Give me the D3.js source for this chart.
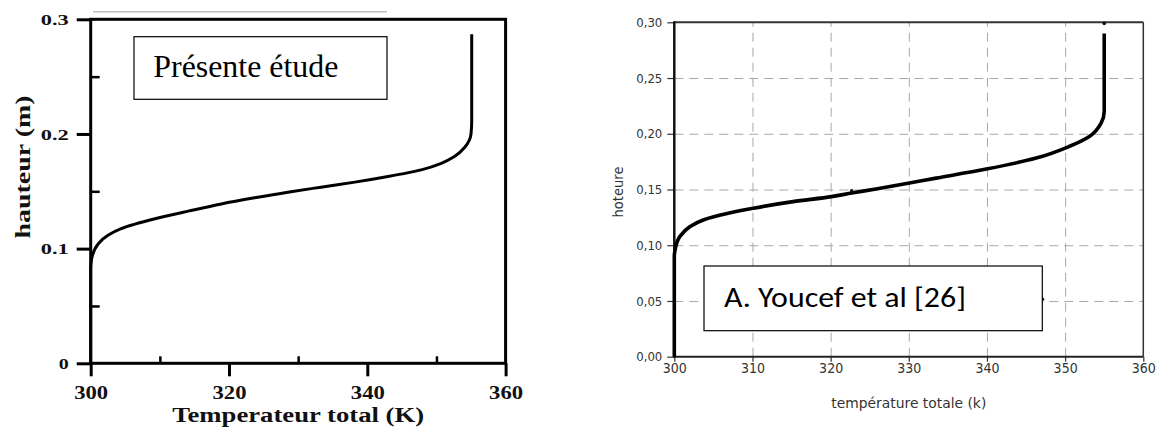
<!DOCTYPE html>
<html>
<head>
<meta charset="utf-8">
<script src="https://cdn.jsdelivr.net/npm/d3@7"></script>
<style>
  html, body { margin: 0; padding: 0; background: #fff; }
  svg { display: block; }
</style>
</head>
<body>
<svg id="chart" width="1161" height="427"></svg>
<script>
// ---------- DATA ----------
// Left panel: "Présente étude"
const leftTemp   = [300, 300, 300.1, 301.1, 302.5, 304.4, 309.3, 314.1, 318.9, 323.7, 328.5, 333.3, 338.2, 343.0, 347.8, 350.7, 352.6, 354.1, 355.0, 355.1, 355.1];
const leftHeight = [0, 0.082, 0.0898, 0.1043, 0.1116, 0.1174, 0.126, 0.1327, 0.139, 0.1443, 0.1492, 0.1536, 0.158, 0.1629, 0.1687, 0.1744, 0.1803, 0.1884, 0.2, 0.2116, 0.287];
const leftXTicks = [300, 320, 340, 360];
const leftXMinor = [310, 330, 350];
const leftYTicks = [0, 0.1, 0.2, 0.3];
const leftYMinor = [0.05, 0.15, 0.25];
const leftXLabels = ["300", "320", "340", "360"];
const leftYLabels = ["0", "0.1", "0.2", "0.3"];

// Right panel: "A. Youcef et al [26]"
const rightTemp   = [300, 300, 300.1, 300.7, 302.0, 303.7, 306.9, 310.1, 315.2, 320.1, 322.7, 325.8, 329.9, 333.5, 339.9, 346.3, 350.5, 353.1, 354.6, 355.0, 355.0];
const rightHeight = [0, 0.09, 0.0958, 0.1077, 0.1167, 0.1227, 0.1287, 0.1332, 0.1391, 0.1436, 0.1468, 0.1505, 0.1557, 0.1602, 0.1683, 0.1782, 0.1886, 0.1976, 0.2096, 0.22, 0.29];
const rightStrayTemp   = [355.0, 347.1, 322.7];
const rightStrayHeight = [0.299, 0.0515, 0.1488];
const rightXTicks = [300, 310, 320, 330, 340, 350, 360];
const rightYTicks = [0, 0.05, 0.10, 0.15, 0.20, 0.25, 0.30];
const rightXLabels = ["300", "310", "320", "330", "340", "350", "360"];
const rightYLabels = ["0,00", "0,05", "0,10", "0,15", "0,20", "0,25", "0,30"];

// ---------- DRAW ----------
const svg = d3.select("#chart");

// ===== LEFT PANEL =====
const Lx = d3.scaleLinear().domain([300, 360]).range([90.7, 505.6]);
const Ly = d3.scaleLinear().domain([0, 0.3]).range([363.3, 19.3]);
const L = svg.append("g");
const serifBold = "'Liberation Serif', 'Times New Roman', serif";

// faint scan line above
L.append("line").attr("x1", 93).attr("x2", 387).attr("y1", 11.7).attr("y2", 11.7)
  .attr("stroke", "#bdbdbd").attr("stroke-width", 1.5);

// major ticks (outward) left
const lyAxis = L.append("g").attr("transform", `translate(${Lx(300)},0)`)
  .call(d3.axisLeft(Ly).tickValues(leftYTicks).tickSize(14).tickPadding(8)
    .tickFormat((d, i) => leftYLabels[i]));
lyAxis.select(".domain").remove();
lyAxis.selectAll(".tick line").attr("stroke", "#000").attr("stroke-width", 3);
lyAxis.selectAll(".tick text").attr("font-family", serifBold).attr("font-weight", "bold")
  .attr("font-size", 15).attr("fill", "#111").attr("dy", "0.35em")
  .each(function(d, i) { const n = leftYLabels[i].length; d3.select(this).attr("textLength", n === 1 ? 10 : 28).attr("lengthAdjust", "spacingAndGlyphs"); });

// minor ticks inward left
const lyMinor = L.append("g").attr("transform", `translate(${Lx(300)},0)`)
  .call(d3.axisLeft(Ly).tickValues(leftYMinor).tickSize(-9).tickFormat(""));
lyMinor.select(".domain").remove();
lyMinor.selectAll(".tick line").attr("stroke", "#000").attr("stroke-width", 2.5);

// major ticks bottom
const lxAxis = L.append("g").attr("transform", `translate(0,${Ly(0)})`)
  .call(d3.axisBottom(Lx).tickValues(leftXTicks).tickSize(13).tickPadding(10)
    .tickFormat((d, i) => leftXLabels[i]));
lxAxis.select(".domain").remove();
lxAxis.selectAll(".tick line").attr("stroke", "#000").attr("stroke-width", 3);
lxAxis.selectAll(".tick text").attr("font-family", serifBold).attr("font-weight", "bold")
  .attr("font-size", 18).attr("fill", "#111").attr("dy", "0.71em")
  .attr("textLength", 34).attr("lengthAdjust", "spacingAndGlyphs");

// minor ticks inward bottom
const lxMinor = L.append("g").attr("transform", `translate(0,${Ly(0)})`)
  .call(d3.axisBottom(Lx).tickValues(leftXMinor).tickSize(-7).tickFormat(""));
lxMinor.select(".domain").remove();
lxMinor.selectAll(".tick line").attr("stroke", "#000").attr("stroke-width", 2.5);

// frame
L.append("rect").attr("x", Lx(300)).attr("y", Ly(0.3))
  .attr("width", Lx(360) - Lx(300)).attr("height", Ly(0) - Ly(0.3))
  .attr("fill", "none").attr("stroke", "#000").attr("stroke-width", 3);

// curve
const leftData = leftTemp.map((t, i) => [t, leftHeight[i]]);
L.append("path").datum(leftData)
  .attr("fill", "none").attr("stroke", "#000").attr("stroke-width", 3)
  .attr("stroke-linejoin", "round")
  .attr("d", d3.line().x(d => Lx(d[0])).y(d => Ly(d[1])).curve(d3.curveMonotoneY));

// legend box
L.append("rect").attr("x", 134).attr("y", 36.7).attr("width", 253).attr("height", 62.6)
  .attr("fill", "#fff").attr("stroke", "#000").attr("stroke-width", 1.2);
L.append("text").attr("x", 153.3).attr("y", 77).text("Présente étude")
  .attr("font-family", "'Liberation Serif', 'Times New Roman', serif").attr("font-size", 31)
  .attr("fill", "#000").attr("textLength", 185).attr("lengthAdjust", "spacingAndGlyphs");

// axis titles
L.append("text").attr("x", (Lx(300) + Lx(360)) / 2).attr("y", 421.5)
  .attr("text-anchor", "middle").text("Temperateur total (K)")
  .attr("font-family", serifBold).attr("font-weight", "bold").attr("font-size", 20)
  .attr("fill", "#111").attr("textLength", 252).attr("lengthAdjust", "spacingAndGlyphs");
L.append("text").attr("transform", "translate(30,167) rotate(-90)")
  .attr("text-anchor", "middle").text("hauteur (m)")
  .attr("font-family", serifBold).attr("font-weight", "bold").attr("font-size", 20)
  .attr("fill", "#111").attr("textLength", 143).attr("lengthAdjust", "spacingAndGlyphs");

// ===== RIGHT PANEL =====
const Rx = d3.scaleLinear().domain([300, 360]).range([674.3, 1143.3]);
const Ry = d3.scaleLinear().domain([0, 0.3]).range([356.7, 22.3]);
const R = svg.append("g");
const sans = "'Liberation Sans Narrow', 'DejaVu Sans Condensed', 'Liberation Sans', Arial, sans-serif";

// grid
const gx = R.append("g").attr("transform", `translate(0,${Ry(0)})`)
  .call(d3.axisBottom(Rx).tickValues(rightXTicks.slice(1, -1)).tickSize(-(Ry(0) - Ry(0.3))).tickFormat(""));
gx.select(".domain").remove();
gx.selectAll(".tick line").attr("stroke", "#a8a8a8").attr("stroke-width", 1).attr("stroke-dasharray", "9,6");
const gy = R.append("g").attr("transform", `translate(${Rx(300)},0)`)
  .call(d3.axisLeft(Ry).tickValues(rightYTicks.slice(1, -1)).tickSize(-(Rx(360) - Rx(300))).tickFormat(""));
gy.select(".domain").remove();
gy.selectAll(".tick line").attr("stroke", "#a8a8a8").attr("stroke-width", 1).attr("stroke-dasharray", "9,6");

// axes
const ryAxis = R.append("g").attr("transform", `translate(${Rx(300)},0)`)
  .call(d3.axisLeft(Ry).tickValues(rightYTicks).tickSize(7).tickPadding(5)
    .tickFormat((d, i) => rightYLabels[i]));
ryAxis.select(".domain").remove();
ryAxis.selectAll(".tick line").attr("stroke", "#333").attr("stroke-width", 1.2);
ryAxis.selectAll(".tick text").attr("font-family", sans).attr("font-size", 13).attr("fill", "#333");

const rxAxis = R.append("g").attr("transform", `translate(0,${Ry(0)})`)
  .call(d3.axisBottom(Rx).tickValues(rightXTicks).tickSize(5).tickPadding(1)
    .tickFormat((d, i) => rightXLabels[i]));
rxAxis.select(".domain").remove();
rxAxis.selectAll(".tick line").attr("stroke", "#333").attr("stroke-width", 1.2);
rxAxis.selectAll(".tick text").attr("font-family", sans).attr("font-size", 14).attr("fill", "#333");

// frame lines
R.append("line").attr("x1", Rx(300)).attr("x2", Rx(360)).attr("y1", Ry(0.3)).attr("y2", Ry(0.3))
  .attr("stroke", "#333").attr("stroke-width", 2);
R.append("line").attr("x1", Rx(360)).attr("x2", Rx(360)).attr("y1", Ry(0.3)).attr("y2", Ry(0))
  .attr("stroke", "#333").attr("stroke-width", 1.5);
R.append("line").attr("x1", Rx(300)).attr("x2", Rx(360)).attr("y1", Ry(0)).attr("y2", Ry(0))
  .attr("stroke", "#222").attr("stroke-width", 2);
R.append("line").attr("x1", Rx(300)).attr("x2", Rx(300)).attr("y1", Ry(0.3) - 1).attr("y2", Ry(0) + 1)
  .attr("stroke", "#111").attr("stroke-width", 2.5);

// curve
const rightData = rightTemp.map((t, i) => [t, rightHeight[i]]);
R.append("path").datum(rightData)
  .attr("fill", "none").attr("stroke", "#000").attr("stroke-width", 3.6)
  .attr("stroke-linejoin", "round")
  .attr("d", d3.line().x(d => Rx(d[0])).y(d => Ry(d[1])).curve(d3.curveMonotoneY));
R.selectAll("circle.stray").data(rightStrayTemp.map((t, i) => [t, rightStrayHeight[i]]))
  .enter().append("circle").attr("class", "stray")
  .attr("cx", d => Rx(d[0])).attr("cy", d => Ry(d[1])).attr("r", 1.8).attr("fill", "#111");

// legend box
R.append("rect").attr("x", 704).attr("y", 266).attr("width", 338.3).attr("height", 64.7)
  .attr("fill", "#fff").attr("stroke", "#000").attr("stroke-width", 1.2);
R.append("text").attr("x", 724).attr("y", 307.3).text("A. Youcef et al [26]")
  .attr("font-family", "Carlito, Calibri, 'Open Sans', sans-serif").attr("font-size", 29)
  .attr("fill", "#000").attr("textLength", 242).attr("lengthAdjust", "spacingAndGlyphs");

// axis titles
R.append("text").attr("x", (Rx(300) + Rx(360)) / 2).attr("y", 408)
  .attr("text-anchor", "middle").text("température totale (k)")
  .attr("font-family", sans).attr("font-size", 14).attr("fill", "#333")
  .attr("textLength", 155).attr("lengthAdjust", "spacingAndGlyphs");
R.append("text").attr("transform", "translate(623,192) rotate(-90)")
  .attr("text-anchor", "middle").text("hoteure")
  .attr("font-family", sans).attr("font-size", 14).attr("fill", "#333")
  .attr("textLength", 51).attr("lengthAdjust", "spacingAndGlyphs");
</script>
</body>
</html>
